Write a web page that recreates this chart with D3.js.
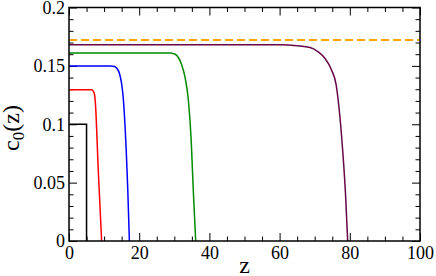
<!DOCTYPE html>
<html>
<head>
<meta charset="utf-8">
<script src="https://cdn.jsdelivr.net/npm/d3@7"></script>
<style>
  body { margin: 0; background: #fff; }
</style>
</head>
<body>
<div id="chart"></div>
<script>
// data: [z, c0(z)]
const curveBlack  = [[0, 0.1], [5, 0.1], [5, 0]];
const curveRed    = [[0, 0.1295], [6.4, 0.1295], [7.0, 0.128], [7.3, 0.125], [7.5, 0.119], [8.35, 0.06], [9.3, 0]];
const curveBlue   = [[0, 0.150], [11.7, 0.150], [13.0, 0.1495], [13.6, 0.148], [14.4, 0.1432], [15.0, 0.1345],
                     [15.5, 0.121], [15.95, 0.0994], [16.3, 0.078], [16.75, 0.0437], [17.2, 0]];
const curveGreen  = [[0, 0.161], [28.8, 0.161], [29.8, 0.1605], [30.7, 0.159], [32.1, 0.151], [33.0, 0.141],
                     [34.0, 0.121], [34.8, 0.087], [35.4, 0.044], [36.1, 0]];
const curvePurple = [[0, 0.168], [60, 0.168], [65, 0.1672], [68.7, 0.1657], [71.0, 0.162], [72.9, 0.1565],
                     [74.8, 0.1465], [76.1, 0.134], [77.0, 0.112], [78.0, 0.0765], [78.8, 0.039], [79.4, 0]];
const limitLine   = [[0, 0.1722], [100, 0.1722]];

const xMajor = [0, 20, 40, 60, 80, 100];
const yMajor = [0, 0.05, 0.1, 0.15, 0.2];

const serif = "'Liberation Serif', 'Times New Roman', serif";

const margin = { top: 7.5, right: 16, bottom: 35, left: 69 };
const width = 436 - margin.left - margin.right;
const height = 276 - margin.top - margin.bottom;

const svg = d3.select("#chart")
    .append("svg")
    .attr("width", 436)
    .attr("height", 276)
    .append("g")
    .attr("transform", `translate(${margin.left},${margin.top})`);

const x = d3.scaleLinear().domain([0, 100]).range([0, width]);
const y = d3.scaleLinear().domain([0, 0.2]).range([height, 0]);

const xMinor = d3.range(0, 101, 5).filter(v => v % 20 !== 0);
const yMinor = d3.range(0, 21, 1).map(v => v / 100).filter((v, i) => i % 5 !== 0);

// ticks pointing inward on all four sides
function styleAxis(g) {
    g.attr("font-family", null);
    g.select(".domain").remove();
    g.selectAll("line").attr("stroke", "#000").attr("stroke-width", 1);
    g.selectAll("text").attr("fill", "#000")
        .style("font-family", serif).style("font-size", "18px");
}

svg.append("g").attr("transform", `translate(0,${height})`)
    .call(d3.axisBottom(x).tickValues(xMajor).tickSize(-8).tickPadding(5).tickFormat(d3.format("d")))
    .call(styleAxis);
svg.append("g").attr("transform", `translate(0,${height})`)
    .call(d3.axisBottom(x).tickValues(xMinor).tickSize(-4.5).tickFormat(""))
    .call(styleAxis);
svg.append("g")
    .call(d3.axisTop(x).tickValues(xMajor).tickSize(-8).tickFormat(""))
    .call(styleAxis);
svg.append("g")
    .call(d3.axisTop(x).tickValues(xMinor).tickSize(-4.5).tickFormat(""))
    .call(styleAxis);

svg.append("g")
    .call(d3.axisLeft(y).tickValues(yMajor).tickSize(-8).tickPadding(4).tickFormat(d => d === 0 ? "0" : String(+d.toFixed(2))))
    .call(styleAxis);
svg.append("g")
    .call(d3.axisLeft(y).tickValues(yMinor).tickSize(-4.5).tickFormat(""))
    .call(styleAxis);
svg.append("g").attr("transform", `translate(${width},0)`)
    .call(d3.axisRight(y).tickValues(yMajor).tickSize(-8).tickFormat(""))
    .call(styleAxis);
svg.append("g").attr("transform", `translate(${width},0)`)
    .call(d3.axisRight(y).tickValues(yMinor).tickSize(-4.5).tickFormat(""))
    .call(styleAxis);

const smooth = d3.line().x(d => x(d[0])).y(d => y(d[1])).curve(d3.curveMonotoneX);
const straight = d3.line().x(d => x(d[0])).y(d => y(d[1]));

svg.append("path").datum(limitLine)
    .attr("fill", "none").attr("stroke", "#ffa500").attr("stroke-width", 2)
    .attr("stroke-dasharray", "8,4").attr("d", straight);

svg.append("path").datum(curveBlack)
    .attr("fill", "none").attr("stroke", "#000").attr("stroke-width", 1.5).attr("d", straight);

const coloured = [
    [curveRed, "#ff0000"],
    [curveBlue, "#0000ff"],
    [curveGreen, "#008b00"],
    [curvePurple, "#670748"]
];
coloured.forEach(([data, colour]) => {
    svg.append("path").datum(data)
        .attr("fill", "none").attr("stroke", colour).attr("stroke-width", 1.5).attr("d", smooth);
});

// frame
svg.append("rect")
    .attr("width", width).attr("height", height)
    .attr("fill", "none").attr("stroke", "#000").attr("stroke-width", 1.5);

// axis labels
svg.append("text")
    .attr("x", x(50)).attr("y", height + 32)
    .attr("text-anchor", "middle")
    .style("font-family", serif).style("font-size", "24px")
    .text("z");

const yl = svg.append("text")
    .attr("transform", `translate(${19 - margin.left},${128 - margin.top}) rotate(-90)`)
    .attr("text-anchor", "middle")
    .style("font-family", serif).style("font-size", "24px");
yl.append("tspan").text("c");
yl.append("tspan").style("font-size", "17px").attr("dy", 5).text("0");
yl.append("tspan").attr("dy", -5).text("(z)");
</script>
</body>
</html>
